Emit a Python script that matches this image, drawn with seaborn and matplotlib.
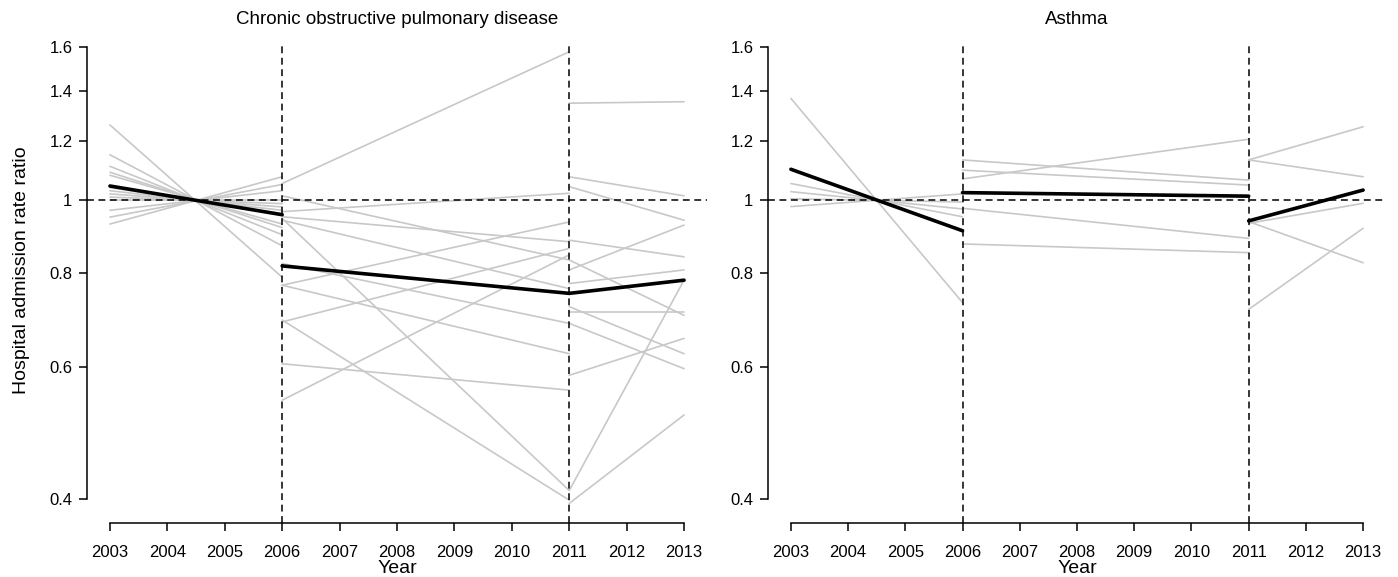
import pandas as pd
import seaborn as sns
import matplotlib.pyplot as plt
from matplotlib.ticker import NullLocator

# segment boundaries (years)
seg_bounds = [(2003, 2006), (2006, 2011), (2011, 2013)]
break_years = [2006, 2011]
year_ticks = list(range(2003, 2014))
ratio_ticks = [0.4, 0.6, 0.8, 1, 1.2, 1.4, 1.6]
ratio_labels = ['0.4', '0.6', '0.8', '1', '1.2', '1.4', '1.6']

# ---- COPD, grey lines: value at start / end of each segment ----
copd_s1_start = [1.26, 1.15, 1.11, 1.09, 1.08, 1.04, 1.03, 1.02, 1.01, 1.00, 0.97, 0.95, 0.93]
copd_s1_end = [0.79, 0.87, 0.90, 0.92, 0.93, 0.96, 0.97, 0.98, 0.99, 1.00, 1.03, 1.05, 1.075]
copd_s2_start = [1.053, 0.966, 1.014, 0.951, 0.946, 0.941, 0.824, 0.771, 0.771, 0.689, 0.693, 0.606, 0.542]
copd_s2_end = [1.577, 1.022, 0.833, 0.881, 0.411, 0.763, 0.686, 0.936, 0.625, 0.863, 0.399, 0.559, 0.846]
copd_s3_start = [1.347, 1.075, 1.043, 0.885, 0.833, 0.808, 0.775, 0.722, 0.711, 0.686, 0.585, 0.411, 0.395]
copd_s3_end = [1.353, 1.014, 0.941, 0.841, 0.703, 0.927, 0.808, 0.625, 0.711, 0.597, 0.655, 0.783, 0.518]
# COPD overall (black)
copd_all_start = [1.045, 0.818, 0.752]
copd_all_end = [0.957, 0.752, 0.783]

# ---- Asthma, grey lines ----
asthma_s1_start = [1.367, 1.053, 1.027, 1.005, 0.981]
asthma_s1_end = [0.731, 0.951, 0.974, 0.995, 1.02]
asthma_s2_start = [1.132, 1.097, 1.068, 0.976, 0.875]
asthma_s2_end = [1.064, 1.048, 1.206, 0.890, 0.852]
asthma_s3_start = [1.132, 1.132, 0.932, 0.937, 0.716]
asthma_s3_end = [1.253, 1.075, 0.991, 0.826, 0.918]
# Asthma overall (black)
asthma_all_start = [1.10, 1.024, 0.939]
asthma_all_end = [0.911, 1.013, 1.032]


def to_long(starts, ends):
    '''
    turns per-segment start/end values into a long dataframe
    '''
    rows = []
    for seg, ((x0, x1), s_vals, e_vals) in enumerate(zip(seg_bounds, starts, ends)):
        for i, (a, b) in enumerate(zip(s_vals, e_vals)):
            unit = "%d_%d" % (seg, i)
            rows.append({"Year": x0, "ratio": a, "unit": unit})
            rows.append({"Year": x1, "ratio": b, "unit": unit})
    return pd.DataFrame(rows)


copd_grey = to_long([copd_s1_start, copd_s2_start, copd_s3_start],
                    [copd_s1_end, copd_s2_end, copd_s3_end])
copd_black = to_long([[v] for v in copd_all_start], [[v] for v in copd_all_end])
asthma_grey = to_long([asthma_s1_start, asthma_s2_start, asthma_s3_start],
                      [asthma_s1_end, asthma_s2_end, asthma_s3_end])
asthma_black = to_long([[v] for v in asthma_all_start], [[v] for v in asthma_all_end])

sns.set_style("ticks")
plt.rcParams['font.family'] = ['Liberation Sans', 'DejaVu Sans']
plt.rcParams['text.color'] = 'black'
plt.rcParams['axes.labelcolor'] = 'black'
plt.rcParams['xtick.labelcolor'] = 'black'
plt.rcParams['ytick.labelcolor'] = 'black'

fig = plt.figure(figsize=(13.98, 5.77), dpi=100)
ax1 = fig.add_axes([87 / 1398, 54 / 577, 620 / 1398, 477 / 577])
ax2 = fig.add_axes([768 / 1398, 54 / 577, 618 / 1398, 477 / 577])

panels = [(ax1, copd_grey, copd_black, "Chronic obstructive pulmonary disease"),
          (ax2, asthma_grey, asthma_black, "Asthma")]

for ax, grey_df, black_df, title in panels:
    sns.lineplot(data=grey_df, x="Year", y="ratio", units="unit", estimator=None,
                 color="#c8c8c8", lw=1.2, ax=ax, legend=False)
    sns.lineplot(data=black_df, x="Year", y="ratio", units="unit", estimator=None,
                 color="black", lw=2.6, ax=ax, legend=False)

    ax.set_yscale('log')
    ax.set_ylim(0.372, 1.605)
    ax.set_xlim(2002.6, 2013.4)

    for yr in break_years:
        ax.axvline(yr, color="black", lw=1.1, ls=(0, (4.5, 3)), zorder=5)
    ax.axhline(1, color="black", lw=1.1, ls=(0, (4.5, 3)), zorder=5)

    ax.set_yticks(ratio_ticks)
    ax.set_yticklabels(ratio_labels)
    ax.yaxis.set_minor_locator(NullLocator())
    ax.set_xticks(year_ticks)
    ax.set_xticklabels([str(y) for y in year_ticks])

    sns.despine(ax=ax)
    ax.spines['left'].set_bounds(0.4, 1.6)
    ax.spines['bottom'].set_bounds(2003, 2013)
    for side in ['left', 'bottom']:
        ax.spines[side].set_linewidth(1.1)
        ax.spines[side].set_color("black")
    ax.tick_params(axis='both', length=5.5, width=1.1, color="black",
                   labelsize=12, direction='out')
    ax.tick_params(axis='x', pad=10.5)
    ax.tick_params(axis='y', pad=5)

    ax.set_xlabel("Year", fontsize=14, labelpad=0)
    ax.set_title(title, fontsize=13.5, pad=16)
    ax.set_ylabel("")

ax1.set_ylabel("Hospital admission rate ratio", fontsize=14)
ax1.yaxis.set_label_coords(-0.092, 0.53)

plt.savefig("out.png", dpi=100)
